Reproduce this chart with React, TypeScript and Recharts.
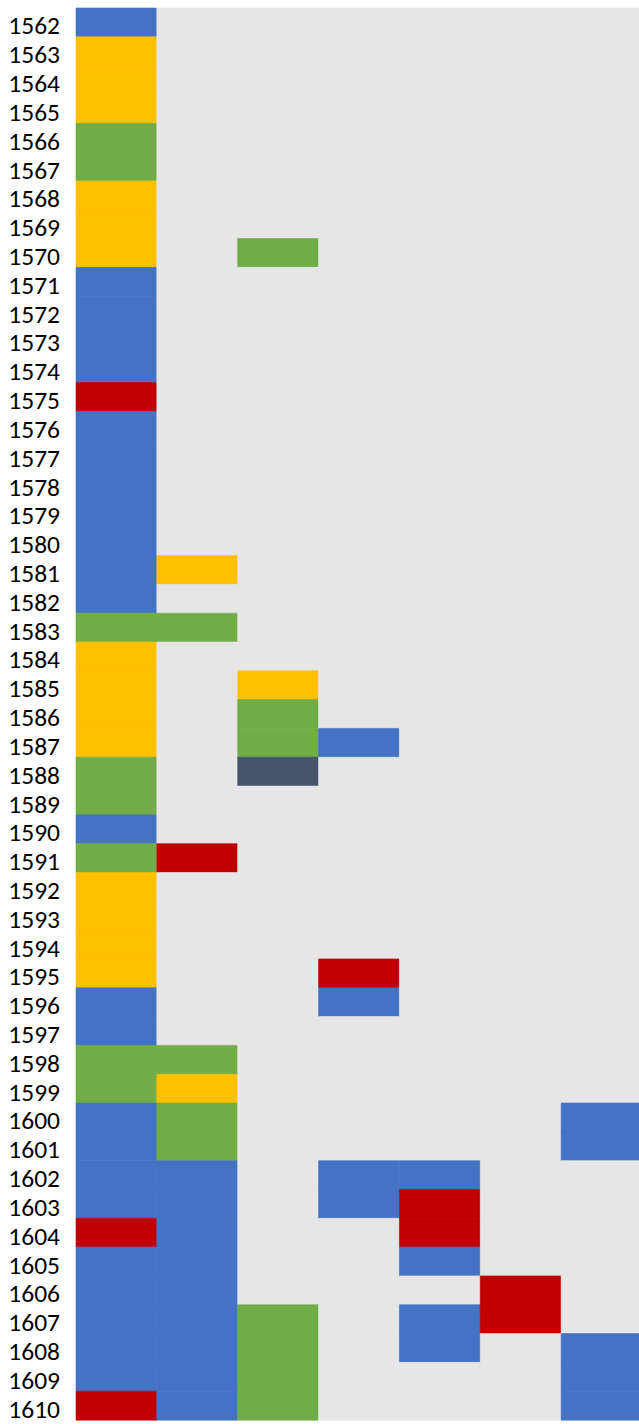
import { Bar, BarChart, CartesianGrid, Cell, XAxis, YAxis } from "recharts";

// Row labels, top to bottom
const years = [
  "1562", "1563", "1564", "1565", "1566", "1567", "1568", "1569", "1570", "1571",
  "1572", "1573", "1574", "1575", "1576", "1577", "1578", "1579", "1580", "1581",
  "1582", "1583", "1584", "1585", "1586", "1587", "1588", "1589", "1590", "1591",
  "1592", "1593", "1594", "1595", "1596", "1597", "1598", "1599", "1600", "1601",
  "1602", "1603", "1604", "1605", "1606", "1607", "1608", "1609", "1610",
];

// Category codes: B blue, Y yellow, G green, R red, D dark slate
const column1 = [
  "B", "Y", "Y", "Y", "G", "G", "Y", "Y", "Y", "B",
  "B", "B", "B", "R", "B", "B", "B", "B", "B", "B",
  "B", "G", "Y", "Y", "Y", "Y", "G", "G", "B", "G",
  "Y", "Y", "Y", "Y", "B", "B", "G", "G", "B", "B",
  "B", "B", "R", "B", "B", "B", "B", "B", "R",
];

// Sparse columns: [year, code]
const column2 = [
  ["1581", "Y"], ["1583", "G"], ["1591", "R"], ["1598", "G"], ["1599", "Y"],
  ["1600", "G"], ["1601", "G"], ["1602", "B"], ["1603", "B"], ["1604", "B"],
  ["1605", "B"], ["1606", "B"], ["1607", "B"], ["1608", "B"], ["1609", "B"],
  ["1610", "B"],
];
const column3 = [
  ["1570", "G"], ["1585", "Y"], ["1586", "G"], ["1587", "G"], ["1588", "D"],
  ["1607", "G"], ["1608", "G"], ["1609", "G"], ["1610", "G"],
];
const column4 = [
  ["1587", "B"], ["1595", "R"], ["1596", "B"], ["1602", "B"], ["1603", "B"],
];
const column5 = [
  ["1602", "B"], ["1603", "R"], ["1604", "R"], ["1605", "B"], ["1607", "B"],
  ["1608", "B"],
];
const column6 = [["1606", "R"], ["1607", "R"]];
const column7 = [
  ["1600", "B"], ["1601", "B"], ["1608", "B"], ["1609", "B"], ["1610", "B"],
];

const palette: Record<string, string> = {
  B: "#4472c4",
  Y: "#ffc000",
  G: "#70ad47",
  R: "#c00000",
  D: "#44546a",
};
const BG = "#e6e6e6";

const sparse = [column2, column3, column4, column5, column6, column7].map(
  (pairs) => new Map(pairs as [string, string][])
);

const columns: string[][] = [
  column1,
  ...sparse.map((m) => years.map((y) => m.get(y) ?? "")),
];

const data = years.map((year) => {
  const row: Record<string, string | number> = { year };
  columns.forEach((_, i) => (row[`c${i}`] = 1));
  return row;
});

export default function App() {
  return (
    <div style={{ width: 639, height: 1424, overflow: "hidden", position: "relative" }}>
      <style>{`body{margin:0;overflow:hidden}`}</style>
      <BarChart
        width={642}
        height={1424}
        data={data}
        layout="vertical"
        barCategoryGap={0}
        margin={{ top: 8, right: 0, bottom: 4, left: 0 }}
      >
        <CartesianGrid horizontal={false} vertical={false} fill={BG} stroke="none" />
        <XAxis type="number" domain={[0, 7]} hide />
        <YAxis
          type="category"
          dataKey="year"
          width={76}
          interval={0}
          axisLine={false}
          tickLine={false}
          tickSize={0}
          tickMargin={16}
          tick={{
            fill: "#000",
            fontSize: 25.5,
            dy: 3,
            fontFamily: "Carlito, 'Liberation Sans', Arial, sans-serif",
          }}
        />
        {columns.map((col, i) => (
          <Bar
            key={i}
            dataKey={`c${i}`}
            stackId="grid"
            isAnimationActive={false}
          >
            {col.map((code, j) => {
              const c = code ? palette[code] : BG;
              return <Cell key={j} fill={c} stroke={c} strokeWidth={0.6} />;
            })}
          </Bar>
        ))}
      </BarChart>
    </div>
  );
}
